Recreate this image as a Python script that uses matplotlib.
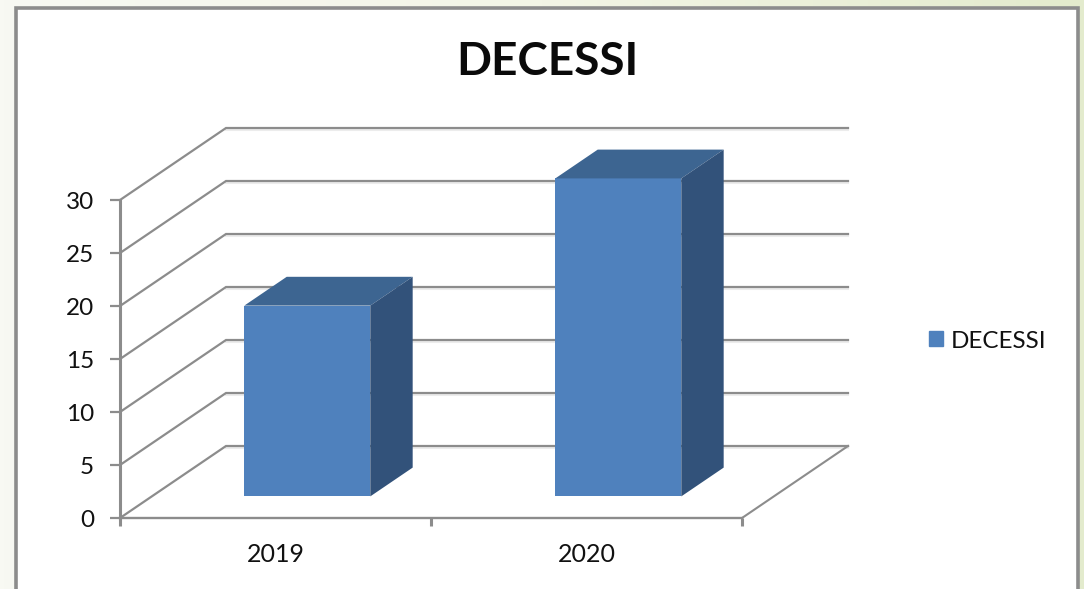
import numpy as np
import matplotlib.pyplot as plt
from matplotlib.colors import LinearSegmentedColormap
from matplotlib.patches import Patch, Rectangle

W, H = 1084, 589
plt.rcParams['font.family'] = ['Lato', 'DejaVu Sans']

years = ['2019', '2020']
decessi = [18, 30]
y_ticks = [0, 5, 10, 15, 20, 25, 30]

GREY = '#8c8c8c'
FRONT = '#4f81bd'
TOP = '#3d6591'
SIDE = '#32527a'
TEXT = '#111111'

# 3d look: the back wall is shifted from the front plane by this much (data units)
DEPTH_X = 106 / 311
DEPTH_Y = 72 / 10.6
BAR_WIDTH = 0.405
BAR_NEAR = 0.3
BAR_FAR = 0.7

fig = plt.figure(figsize=(W / 100, H / 100), dpi=100)

# page background, pale green to the right
bg = fig.add_axes([0, 0, 1, 1], zorder=0)
grad = np.linspace(0, 1, 256).reshape(1, -1)
cmap = LinearSegmentedColormap.from_list('page', ['#f8f9f3', '#f3f5e6', '#e3ebcd'])
bg.imshow(grad, extent=[0, W, H, 0], aspect='auto', cmap=cmap)
bg.add_patch(Rectangle((16, 8), 1062, 620, fc='white', ec=GREY, lw=2.6, clip_on=False))
bg.set_xlim(0, W)
bg.set_ylim(H, 0)
bg.axis('off')

# axes box is the front plane of the chart
ax = fig.add_axes([120 / W, 1 - 518 / H, 622 / W, 318 / H], zorder=1)
ax.set_xlim(0, len(years))
ax.set_ylim(0, 30)
ax.axis('off')

for v in y_ticks:
    # faint shadow under the wall line, then the line
    ax.plot([DEPTH_X, 2 + DEPTH_X], [v + DEPTH_Y - 0.2, v + DEPTH_Y - 0.2], color='#ececec', lw=1.5, clip_on=False, zorder=0.5)
    ax.plot([0, DEPTH_X, 2 + DEPTH_X], [v, v + DEPTH_Y, v + DEPTH_Y], color=GREY, lw=1.6, solid_joinstyle='miter', clip_on=False, zorder=1)
    ax.plot([-0.032, 0], [v, v], color=GREY, lw=1.6, clip_on=False, zorder=3, solid_capstyle='butt')
    ax.text(-0.084, v - 0.2, str(v), ha='right', va='center', fontsize=17.5, color=TEXT)

# floor
ax.plot([2, 2 + DEPTH_X], [0, DEPTH_Y], color=GREY, lw=1.5, clip_on=False, zorder=1)
ax.plot([0, 2], [0, 0], color=GREY, lw=1.7, clip_on=False, zorder=3)
ax.plot([0, 0], [0, 30], color=GREY, lw=2.2, clip_on=False, zorder=3)
for i in range(len(years) + 1):
    ax.plot([i, i], [0, -0.75], color=GREY, lw=2.2, clip_on=False, zorder=3, solid_capstyle='butt')

for i, (year, v) in enumerate(zip(years, decessi)):
    x0 = i + 0.5 - BAR_WIDTH / 2 + BAR_NEAR * DEPTH_X
    x1 = x0 + BAR_WIDTH
    y0 = BAR_NEAR * DEPTH_Y
    y1 = y0 + v
    dx = (BAR_FAR - BAR_NEAR) * DEPTH_X
    dy = (BAR_FAR - BAR_NEAR) * DEPTH_Y
    ax.fill([x0, x1, x1, x0], [y0, y0, y1, y1], color=FRONT, lw=0, clip_on=False, zorder=2)
    ax.fill([x0, x1, x1 + dx, x0 + dx], [y1, y1, y1 + dy, y1 + dy], color=TOP, lw=0, clip_on=False, zorder=2)
    ax.fill([x1, x1 + dx, x1 + dx, x1], [y0, y0 + dy, y1 + dy, y1], color=SIDE, lw=0, clip_on=False, zorder=2)
    ax.text(i + 0.5, -3.45, year, ha='center', va='center', fontsize=18, color=TEXT)

fig.text(547 / W, 1 - 62 / H, 'DECESSI', ha='center', va='center', fontsize=33, fontweight='bold', color='#0a0a0a', zorder=5)

ax.legend(handles=[Patch(color=FRONT, label='DECESSI')], loc='center left', bbox_to_anchor=(929 / W, 1 - 341 / H),
          bbox_transform=fig.transFigure, frameon=False, fontsize=17.5, handlelength=0.58, handleheight=0.58,
          handletextpad=0.33, borderpad=0, borderaxespad=0, labelcolor=TEXT)

fig.savefig('out.png', dpi=100)
